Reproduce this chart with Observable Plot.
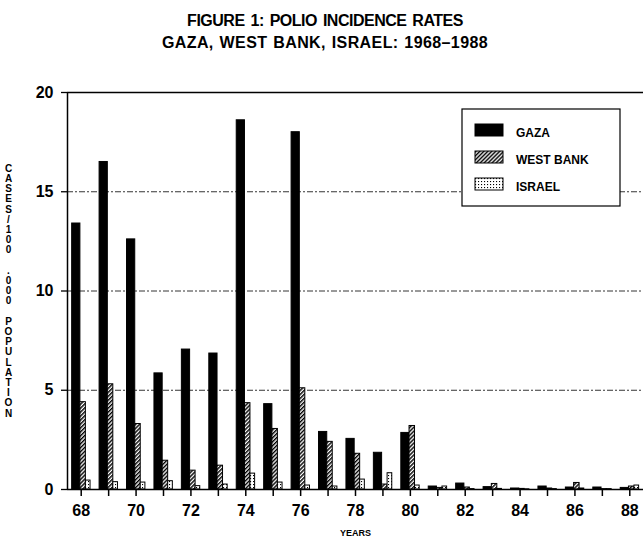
<!DOCTYPE html>
<html><head><meta charset="utf-8">
<script src="https://cdn.jsdelivr.net/npm/d3@7"></script>
<script src="https://cdn.jsdelivr.net/npm/@observablehq/plot@0.6"></script>
<style>
body{margin:0;background:#fff;width:643px;height:540px;overflow:hidden;font-family:"Liberation Sans",Arial,sans-serif;}
#title{height:60px;box-sizing:border-box;padding-top:10px;padding-left:7px;text-align:center;font-weight:bold;font-size:16px;line-height:22px;color:#000;}
#t1{letter-spacing:-0.5px;word-spacing:2px;}
#t2{letter-spacing:0.4px;word-spacing:1px;}
#chart svg{display:block;}
</style></head><body>
<div id="title"><div id="t1">FIGURE 1: POLIO INCIDENCE RATES</div><div id="t2">GAZA, WEST BANK, ISRAEL: 1968–1988</div></div>
<div id="chart"></div>
<script>
const years = [68,69,70,71,72,73,74,75,76,77,78,79,80,81,82,83,84,85,86,87,88];
const series = ["GAZA","WEST BANK","ISRAEL"];
const gaza =     [13.4,16.5,12.6,5.85,7.05,6.85,18.6,4.3,18.0,2.9,2.55,1.85,2.85,0.15,0.3,0.12,0.05,0.15,0.1,0.1,0.08];
const westBank = [4.4,5.3,3.3,1.45,0.95,1.2,4.35,3.05,5.1,2.4,1.8,0.25,3.2,0.08,0.1,0.28,0.03,0.05,0.33,0.02,0.15];
const israel =   [0.45,0.37,0.35,0.42,0.17,0.25,0.8,0.35,0.2,0.15,0.5,0.82,0.2,0.15,0.02,0.03,0.01,0.02,0.05,0.02,0.2];
const yTicks = [0,5,10,15,20];
const xTickLabels = [68,70,72,74,76,78,80,82,84,86,88];
const yLabel = "CASES/100 .000 POPULATION";
const xLabel = "YEARS";

const valuesBySeries = {"GAZA": gaza, "WEST BANK": westBank, "ISRAEL": israel};
// bar slot within each year group (in year units)
const slot = {"GAZA": [-0.33, -0.03], "WEST BANK": [-0.03, 0.17], "ISRAEL": [0.17, 0.34]};
const table = years.flatMap((yr, i) => series.map(s => ({year: yr, series: s, value: valuesBySeries[s][i]})));

const font = "Liberation Sans, Arial, sans-serif";
const xDomain = [67.5, 88.5];

const chart = Plot.plot({
  width: 643, height: 480,
  marginLeft: 67, marginRight: 0, marginTop: 32, marginBottom: 51,
  style: {fontFamily: font, fontWeight: "bold", fontSize: "16px", background: "white", color: "black", overflow: "visible"},
  x: {domain: xDomain, label: null},
  y: {domain: [0, 20], label: null},
  color: {domain: series, range: ["black", "url(#hatch)", "url(#dots)"]},
  marks: [
    Plot.gridY(yTicks.filter(v => v > 0 && v < 20), {stroke: "black", strokeOpacity: 1, strokeWidth: 0.8, strokeDasharray: "6,2,2,2"}),
    Plot.ruleY([20], {stroke: "black", strokeWidth: 1.3}),
    Plot.rectY(table, {
      x1: d => d.year + slot[d.series][0],
      x2: d => d.year + slot[d.series][1],
      y: "value", fill: "series", stroke: "black", strokeWidth: 1
    }),
    Plot.ruleY([0], {stroke: "black", strokeWidth: 1.5}),
    Plot.ruleX([xDomain[0]], {stroke: "black", strokeWidth: 1.5}),
    Plot.axisX({ticks: years, tickFormat: d => xTickLabels.includes(d) ? String(d) : "", tickSize: 7, tickPadding: 8, fontSize: 16, fontWeight: "bold", label: null, strokeWidth: 1.5}),
    Plot.axisY({ticks: yTicks, tickSize: 6, tickPadding: 8, fontSize: 16, fontWeight: "bold", label: null, strokeWidth: 1.3}),
    Plot.text([xLabel], {frameAnchor: "bottom", dy: 46, fontSize: 9, fontWeight: "bold", text: d => d}),
    Plot.text([yLabel], {frameAnchor: "left", dx: -59, textAnchor: "middle", lineAnchor: "middle", fontSize: 10, fontWeight: "bold", lineHeight: 1.02, text: d => d.split("").map(c => c === " " ? "" : c).join("\n")})
  ]
});
document.getElementById("chart").appendChild(chart);

const svg = d3.select(chart);
const defs = svg.insert("defs", ":first-child");
const hatch = defs.append("pattern").attr("id", "hatch").attr("patternUnits", "userSpaceOnUse")
  .attr("width", 2.8).attr("height", 2.8).attr("patternTransform", "rotate(45)");
hatch.append("rect").attr("width", 2.8).attr("height", 2.8).attr("fill", "white");
hatch.append("line").attr("x1", 0.7).attr("y1", 0).attr("x2", 0.7).attr("y2", 2.8).attr("stroke", "black").attr("stroke-width", 1.5);
const dots = defs.append("pattern").attr("id", "dots").attr("patternUnits", "userSpaceOnUse")
  .attr("width", 3).attr("height", 3);
dots.append("rect").attr("width", 3).attr("height", 3).attr("fill", "white");
dots.append("rect").attr("x", 1).attr("y", 1).attr("width", 1.1).attr("height", 1.1).attr("fill", "black");

// legend
const lg = svg.append("g").attr("font-family", font).attr("font-weight", "bold").attr("font-size", 12).attr("text-anchor", "start");
lg.append("rect").attr("x", 462).attr("y", 49).attr("width", 158).attr("height", 97)
  .attr("fill", "white").attr("stroke", "black").attr("stroke-width", 1.2);
const fills = {"GAZA": "black", "WEST BANK": "url(#hatch)", "ISRAEL": "url(#dots)"};
series.forEach((s, i) => {
  const cy = 70 + i * 27;
  lg.append("rect").attr("x", 475).attr("y", cy - 6).attr("width", 28).attr("height", 12)
    .attr("fill", fills[s]).attr("stroke", "black").attr("stroke-width", 1);
  lg.append("text").attr("x", 516).attr("y", cy + 3).attr("dy", "0.35em").attr("text-anchor", "start").text(s);
});
</script>
</body></html>
